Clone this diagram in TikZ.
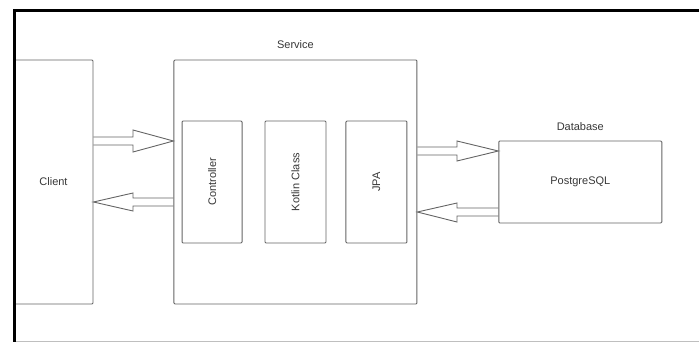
\documentclass[tikz,border=0pt]{standalone}
\usepackage{fontspec}
\setmainfont{Liberation Sans}
\usepackage{graphicx}
\usetikzlibrary{positioning,calc}
\definecolor{LineGray}{RGB}{100,100,100}
\definecolor{TextGray}{RGB}{55,55,55}
\tikzset{
  compbox/.style={draw=LineGray,line width=0.9pt,rounded corners=1pt,
    text=TextGray,align=center},
  innerbox/.style={compbox,minimum width=61pt,minimum height=122pt},
  boxlabel/.style={text=TextGray,inner sep=2pt},
  blockarrow/.style={draw=LineGray,line width=0.9pt,line join=miter},
}

\begin{document}
\begin{tikzpicture}[x=1pt,y=-1pt,font=\fontsize{11}{13}\selectfont]
\useasboundingbox (0,0) rectangle (699,342);
\node[compbox,minimum width=79pt,minimum height=244pt] (client) at (53.5,182) {Client};
\node[compbox,minimum width=243pt,minimum height=244pt,right=80pt of client] (service) {};
\node[boxlabel,above=9pt of service] (servicelbl) {Service};
\node[innerbox] (kotlin) at (295.5,182) {\rotatebox{90}{Kotlin Class}};
\node[innerbox,minimum width=60pt,left=22pt of kotlin] (ctrl) {\rotatebox{90}{Controller}};
\node[innerbox,right=19pt of kotlin] (jpa) {\rotatebox{90}{JPA}};
\node[compbox,minimum width=163pt,minimum height=82pt,right=81pt of service] (db) {PostgreSQL};
\node[boxlabel,above=8pt of db] (dblbl) {Database};
% arrows
\draw[blockarrow] (client.east |- 0,137) -- (133,137) -- (133,130) -- (service.west |- 0,141)
  -- (133,152) -- (133,145) -- (client.east |- 0,145);
\draw[blockarrow] (service.west |- 0,198) -- (133,198) -- (133,193) -- (client.east |- 0,202)
  -- (133,211) -- (133,206) -- (service.west |- 0,206);
\draw[blockarrow] (service.east |- 0,147) -- (457,147) -- (457,141) -- (db.west |- 0,151)
  -- (457,161) -- (457,155) -- (service.east |- 0,155);
\draw[blockarrow] (db.west |- 0,208) -- (457,208) -- (457,203) -- (service.east |- 0,212)
  -- (457,222) -- (457,216) -- (db.west |- 0,216);
% frame
\draw[black!25,line width=0.8pt] (16,341) -- (699,341);
\draw[black,line width=3pt] (14.5,342) -- (14.5,11) -- (699,11);
\end{tikzpicture}
\end{document}
